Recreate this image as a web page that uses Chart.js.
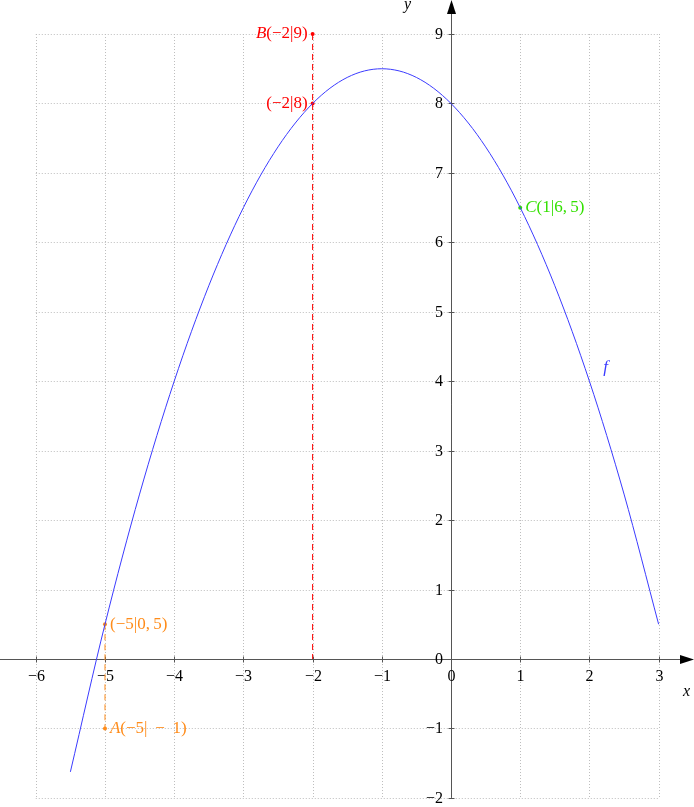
<!DOCTYPE html>
<html>
<head>
<meta charset="utf-8">
<script src="https://cdn.jsdelivr.net/npm/chart.js@4.4.0/dist/chart.umd.min.js"></script>
<style>
  html, body { margin: 0; padding: 0; background: #fff; }
  canvas { display: block; }
</style>
</head>
<body>
<canvas id="plot" width="694" height="807"></canvas>
<script>
// curve f
const xValues = [-5.5, -5, -4.5, -4, -3.5, -3, -2.5, -2, -1.5, -1, -0.5, 0, 0.5, 1, 1.5, 2, 2.5, 3];
const fValues = [-1.625, 0.5, 2.375, 4, 5.375, 6.5, 7.375, 8, 8.375, 8.5, 8.375, 8, 7.375, 6.5, 5.375, 4, 2.375, 0.5];

const xTicks = [-6, -5, -4, -3, -2, -1, 0, 1, 2, 3];
const yTicks = [-2, -1, 0, 1, 2, 3, 4, 5, 6, 7, 8, 9];

// marked points
const redPoints = [{ x: -2, y: 9 }, { x: -2, y: 8 }];
const redDrop = [{ x: -2, y: 9 }, { x: -2, y: 0 }];
const orangePoints = [{ x: -5, y: 0.5 }, { x: -5, y: -1 }];
const orangeDrop = [{ x: -5, y: 0.5 }, { x: -5, y: -1 }];
const greenPoints = [{ x: 1, y: 6.5 }];

const RED = '#ff0000', ORANGE = '#ff8c1a', GREEN = '#33e000', BLUE = '#3b3bff';
const FONT = '"Liberation Serif", "DejaVu Serif", serif';
const SIZE = 16;
const LSIZE = 17;
const TH = '\u2009', MN = '\u2212';

function minus(n) { return String(n).replace('-', MN); }

// draw text made of [text, italic] parts
function drawParts(ctx, parts, x, y, align, color, size) {
    size = size || LSIZE;
    ctx.fillStyle = color;
    ctx.textBaseline = 'middle';
    ctx.textAlign = 'left';
    let total = 0;
    parts.forEach(p => {
        ctx.font = (p[1] ? 'italic ' : '') + size + 'px ' + FONT;
        total += ctx.measureText(p[0]).width;
    });
    let cx = align === 'right' ? x - total : x;
    parts.forEach(p => {
        ctx.font = (p[1] ? 'italic ' : '') + size + 'px ' + FONT;
        ctx.fillText(p[0], cx, y);
        cx += ctx.measureText(p[0]).width;
    });
}

const axesPlugin = {
    id: 'axesPlugin',
    beforeDatasetsDraw(chart) {
        const ctx = chart.ctx;
        const xs = chart.scales.x, ys = chart.scales.y;
        const x0 = xs.getPixelForValue(0), y0 = ys.getPixelForValue(0);
        const left = xs.getPixelForValue(-6), right = xs.getPixelForValue(3);
        const top = ys.getPixelForValue(9), bottom = ys.getPixelForValue(-2);

        ctx.save();
        // dotted grid
        ctx.strokeStyle = '#bdbdbd';
        ctx.lineWidth = 1;
        ctx.setLineDash([1, 2]);
        xTicks.forEach(v => {
            const px = Math.round(xs.getPixelForValue(v)) + 0.5;
            ctx.beginPath(); ctx.moveTo(px, top); ctx.lineTo(px, bottom); ctx.stroke();
        });
        yTicks.forEach(v => {
            const py = Math.round(ys.getPixelForValue(v)) + 0.5;
            ctx.beginPath(); ctx.moveTo(left, py); ctx.lineTo(right, py); ctx.stroke();
        });
        ctx.setLineDash([]);

        // axes
        ctx.strokeStyle = '#555';
        const ax = Math.round(x0) + 0.5, ay = Math.round(y0) + 0.5;
        ctx.beginPath(); ctx.moveTo(0, ay); ctx.lineTo(682, ay); ctx.stroke();
        ctx.beginPath(); ctx.moveTo(ax, bottom); ctx.lineTo(ax, 12); ctx.stroke();
        ctx.fillStyle = '#000';
        ctx.beginPath(); ctx.moveTo(694, ay); ctx.lineTo(680, ay - 4.5); ctx.lineTo(680, ay + 4.5); ctx.closePath(); ctx.fill();
        ctx.beginPath(); ctx.moveTo(ax, 0); ctx.lineTo(ax - 4.5, 14); ctx.lineTo(ax + 4.5, 14); ctx.closePath(); ctx.fill();

        // ticks and labels
        ctx.font = SIZE + 'px ' + FONT;
        ctx.fillStyle = '#000';
        ctx.textBaseline = 'middle';
        xTicks.forEach(v => {
            const px = Math.round(xs.getPixelForValue(v)) + 0.5;
            ctx.beginPath(); ctx.moveTo(px, ay - 3); ctx.lineTo(px, ay + 3); ctx.stroke();
            ctx.textAlign = 'center';
            ctx.fillText(minus(v), px, y0 + 18);
        });
        yTicks.forEach(v => {
            const py = Math.round(ys.getPixelForValue(v)) + 0.5;
            ctx.beginPath(); ctx.moveTo(ax - 3, py); ctx.lineTo(ax + 3, py); ctx.stroke();
            ctx.textAlign = 'right';
            ctx.fillText(minus(v), x0 - 8, py);
        });
        drawParts(ctx, [['x', true]], 683, 692, 'left', '#000', SIZE);
        drawParts(ctx, [['y', true]], 404, 5, 'left', '#000', SIZE);
        ctx.restore();
    },
    afterDatasetsDraw(chart) {
        const ctx = chart.ctx;
        const xs = chart.scales.x, ys = chart.scales.y;
        const P = (x, y) => [xs.getPixelForValue(x), ys.getPixelForValue(y)];
        ctx.save();
        let p = P(-2, 9);
        drawParts(ctx, [['B', true], ['(' + MN + '2|9)', false]], p[0] - 5, p[1], 'right', RED);
        p = P(-2, 8);
        drawParts(ctx, [['(' + MN + '2|8)', false]], p[0] - 5, p[1], 'right', RED);
        p = P(1, 6.5);
        drawParts(ctx, [['C', true], ['(1|6,' + TH + '5)', false]], p[0] + 5, p[1], 'left', GREEN);
        p = P(-5, 0.5);
        drawParts(ctx, [['(' + MN + '5|0,' + TH + '5)', false]], p[0] + 5, p[1], 'left', ORANGE);
        p = P(-5, -1);
        drawParts(ctx, [['A', true], ['(' + MN + '5|' + TH + ' ' + MN + ' ' + TH + '1)', false]], p[0] + 5, p[1], 'left', ORANGE);
        p = P(2.2, 4.2);
        drawParts(ctx, [['f', true]], p[0], p[1], 'left', BLUE);
        ctx.restore();
    }
};

new Chart(document.getElementById('plot').getContext('2d'), {
    type: 'scatter',
    data: {
        datasets: [
            {
                data: xValues.map((x, i) => ({ x: x, y: fValues[i] })),
                showLine: true,
                borderColor: BLUE,
                borderWidth: 1,
                pointRadius: 0,
                cubicInterpolationMode: 'monotone'
            },
            {
                data: redDrop, showLine: true, borderColor: RED, borderWidth: 1,
                borderDash: [6, 4], pointRadius: 0
            },
            {
                data: orangeDrop, showLine: true, borderColor: ORANGE, borderWidth: 1,
                borderDash: [6, 4], pointRadius: 0
            },
            { data: redPoints, pointRadius: 2, pointBackgroundColor: RED, pointBorderWidth: 0 },
            { data: orangePoints, pointRadius: 2, pointBackgroundColor: ORANGE, pointBorderWidth: 0 },
            { data: greenPoints, pointRadius: 2, pointBackgroundColor: GREEN, pointBorderWidth: 0 }
        ]
    },
    options: {
        responsive: false,
        animation: false,
        layout: { padding: 0, autoPadding: false },
        plugins: { legend: { display: false }, tooltip: { enabled: false } },
        scales: {
            x: { type: 'linear', display: false, min: -6.517, max: 3.511 },
            y: { type: 'linear', display: false, min: -2.131, max: 9.49 }
        }
    },
    plugins: [axesPlugin]
});
</script>
</body>
</html>
